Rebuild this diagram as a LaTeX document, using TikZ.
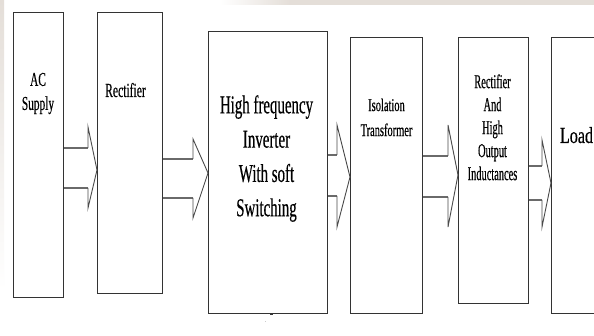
\documentclass[tikz,border=0pt]{standalone}
\usepackage{fontspec}
\newfontfamily\tnA[FakeStretch=0.58,FakeBold=0.4]{Liberation Serif}
\newfontfamily\tnB[FakeStretch=0.53,FakeBold=0.4]{Liberation Serif}
\newfontfamily\tnC[FakeStretch=0.70,FakeBold=0.4]{Liberation Serif}
\definecolor{boxline}{HTML}{333333}
\definecolor{shaftcol}{HTML}{6A6A6A}
\definecolor{headcol}{HTML}{4A4A4A}
\definecolor{smudge}{HTML}{E4DED8}
\tikzset{
  blockbox/.style={draw=boxline, line width=1.3pt, rectangle, inner sep=0pt, anchor=north west},
  label text/.style={inner sep=0pt, align=center, text=black},
  shaft/.style={draw=shaftcol, line width=2.4pt},
  chevron/.style={draw=headcol, line width=0.9pt, line join=miter}
}
\newcommand\blockarrow[8]{%
  % #1 from node, #2 to node, #3 shaft top y, #4 shaft bottom y,
  % #5 head top y, #6 head bottom y, #7 tip y, #8 head base x
  \draw[shaft] (#1.east |- 0,#3) -- (#8,#3);
  \draw[shaft] (#1.east |- 0,#4) -- (#8,#4);
  \draw[chevron] (#8,#3) -- (#8,#5) -- (#2.west |- 0,#7) -- (#8,#6) -- (#8,#4);
}
\begin{document}
\begin{tikzpicture}[x=1pt,y=-1pt]
\useasboundingbox (0,0) rectangle (594,336);
\clip (0,0) rectangle (594,336);
\fill[white] (0,0) rectangle (594,336);
% faint background smudges of the original
\fill[left color=white, right color=smudge] (220,0) rectangle (290,5);
\fill[smudge] (290,0) rectangle (594,5);
\fill[top color=smudge, bottom color=white] (0,0) rectangle (4,290);

% blocks
\node[blockbox, minimum width=50pt, minimum height=285pt] (b1) at (13,12) {};
\node[blockbox, minimum width=65pt, minimum height=281pt] (b2) at (97,12) {};
\node[blockbox, minimum width=119pt, minimum height=282pt] (b3) at (208,31) {};
\node[blockbox, minimum width=72pt, minimum height=276pt] (b4) at (350,37) {};
\node[blockbox, minimum width=70pt, minimum height=266pt] (b5) at (458,37) {};
\node[blockbox, minimum width=70pt, minimum height=276pt] (b6) at (551,37) {};

% texts
\node[label text, font=\tnA\fontsize{19.6}{24}\selectfont] (t1) at (38,93.5) {AC\\Supply};
\node[label text, font=\tnA\fontsize{20}{24}\selectfont, anchor=base] (t2) at (125.5,97) {Rectifier};
\node[label text, font=\tnA\fontsize{25.7}{34.3}\selectfont] (t3) at (266.5,158.5) {High frequency\\Inverter\\With soft\\Switching};
\node[label text, font=\tnA\fontsize{18}{25}\selectfont] (t4) at (386.5,117.4) {Isolation\\Transformer};
\node[label text, font=\tnB\fontsize{19.6}{23}\selectfont] (t5) at (492.5,127.3) {Rectifier\\And\\High\\Output\\Inductances};
\node[label text, font=\tnC\fontsize{23}{27}\selectfont, anchor=base] (t6) at (576.5,143) {Load};

% block arrows
\blockarrow{b1}{b2}{148}{188}{127}{208}{170}{88}
\blockarrow{b2}{b3}{159}{198}{139}{218}{173}{193}
\blockarrow{b3}{b4}{155}{196}{125}{227}{177}{337}
\blockarrow{b4}{b5}{156}{197}{125}{227}{175}{448}
\blockarrow{b5}{b6}{166}{200}{140}{227}{183}{542}

% small marks below the inverter block
\fill[boxline] (270,313) rectangle (272.5,315.5);
\fill[black!20] (264.5,321.5) rectangle (265.5,322.5);
\end{tikzpicture}
\end{document}
